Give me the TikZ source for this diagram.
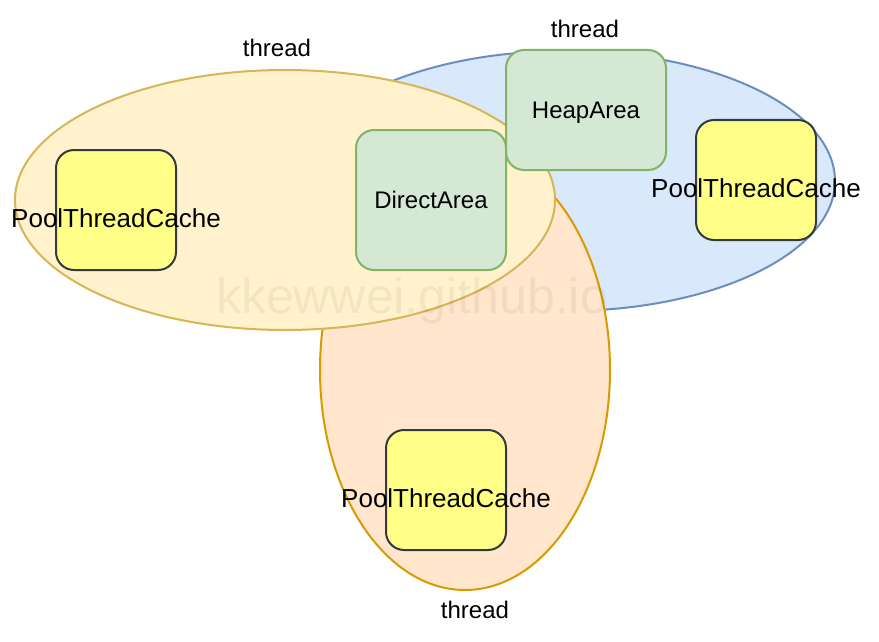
\documentclass[tikz,border=0pt]{standalone}
\usepackage{fontspec}
\setmainfont{Liberation Sans}
\usetikzlibrary{shapes.geometric}
\definecolor{yfill}{HTML}{FFF2CC}\definecolor{ydraw}{HTML}{D6B656}
\definecolor{bfill}{HTML}{DAE8FC}\definecolor{bdraw}{HTML}{6C8EBF}
\definecolor{ofill}{HTML}{FFE6CC}\definecolor{odraw}{HTML}{D79B00}
\definecolor{gfill}{HTML}{D5E8D4}\definecolor{gdraw}{HTML}{82B366}
\definecolor{pfill}{HTML}{FFFF88}\definecolor{pdraw}{HTML}{36393D}
\tikzset{
  threadell/.style={ellipse, line width=2pt, inner sep=0pt},
  area/.style={draw=gdraw, fill=gfill, line width=2pt, rounded corners=18pt, inner sep=0pt,
    font=\fontsize{24}{28}\selectfont, text height=17pt, text depth=0pt},
  ptc/.style={draw=pdraw, fill=pfill, line width=2pt, rounded corners=18pt, inner sep=0pt,
    minimum width=120pt, minimum height=120pt,
    font=\fontsize{26}{30}\selectfont, text height=34pt, text depth=0pt},
  threadlbl/.style={anchor=base, inner sep=0pt, font=\fontsize{24}{28}\selectfont},
}
\begin{document}
\begin{tikzpicture}[x=1pt,y=-1pt]
\useasboundingbox (0,0) rectangle (879,642);
% ellipses
\node[threadell, draw=bdraw, fill=bfill, minimum width=540pt, minimum height=260pt] (eblue) at (565,181) {};
\node[threadell, draw=odraw, fill=ofill, minimum width=290pt, minimum height=440pt] (eorange) at (465,370) {};
\node[threadell, draw=ydraw, fill=yfill, minimum width=540pt, minimum height=260pt] (eyellow) at (285,200) {};
% watermark
\node[anchor=base, inner sep=0pt, text=black, text opacity=0.05, font=\fontsize{50}{56}\selectfont] (wm) at (412,313) {kkewwei.github.io};
% thread labels
\node[threadlbl] (t1) at (277,57) {thread};
\node[threadlbl] (t2) at (585,38) {thread};
\node[threadlbl] (t3) at (475,618) {thread};
% boxes
\node[area, minimum width=150pt, minimum height=140pt] (direct) at (431,200) {DirectArea};
\node[area, minimum width=160pt, minimum height=120pt] (heap) at (586,110) {HeapArea};
\node[ptc] (p1) at (116,210) {\makebox[0pt][c]{PoolThreadCache}};
\node[ptc] (p2) at (756,180) {\makebox[0pt][c]{PoolThreadCache}};
\node[ptc] (p3) at (446,490) {\makebox[0pt][c]{PoolThreadCache}};
\end{tikzpicture}
\end{document}
